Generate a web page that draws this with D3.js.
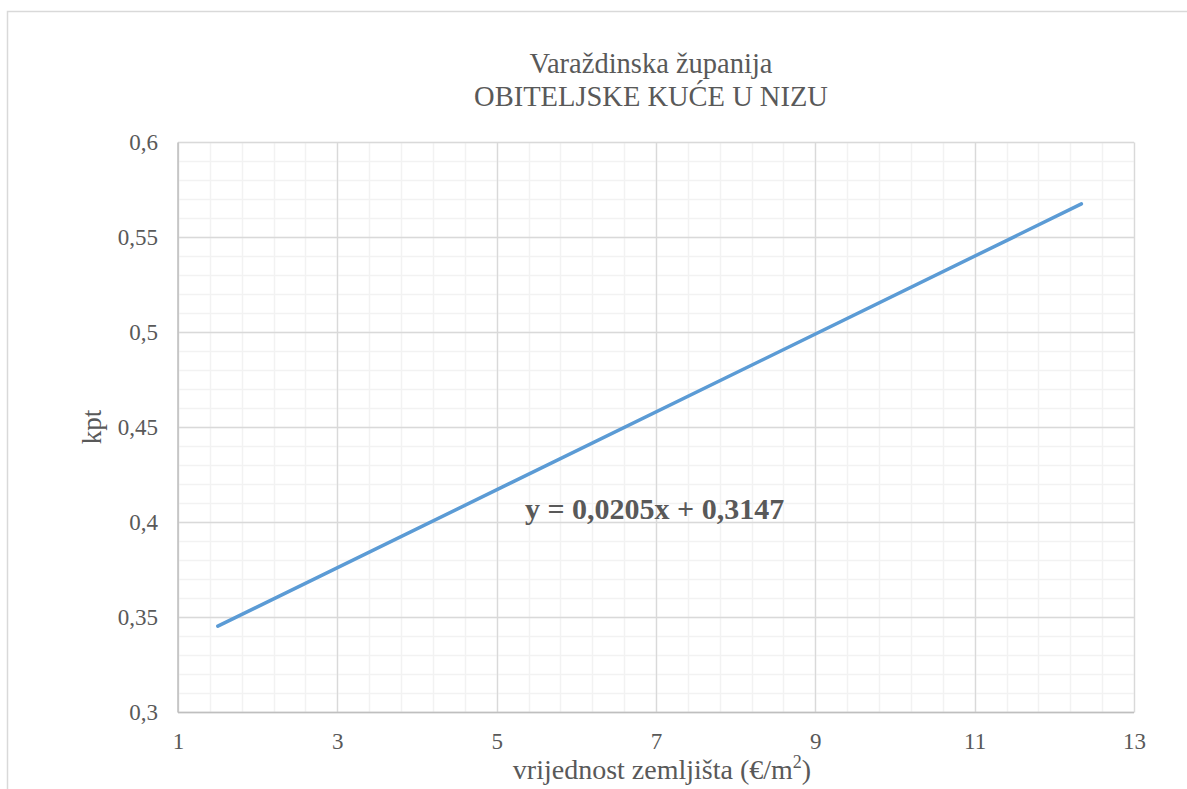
<!DOCTYPE html>
<html>
<head>
<meta charset="utf-8">
<script src="https://cdn.jsdelivr.net/npm/d3@7"></script>
<style>
  html, body { margin: 0; padding: 0; background: #fff; }
  svg { display: block; }
  svg text { font-family: "Liberation Serif", "Times New Roman", serif; }
</style>
</head>
<body>
<svg id="chart" width="1187" height="789"></svg>
<script>
// Linear trend of kpt against land value
const titleLines = ["Varaždinska županija", "OBITELJSKE KUĆE U NIZU"];
const xDomain = [1, 13];
const yDomain = [0.3, 0.6];
const xTicks = [1, 3, 5, 7, 9, 11, 13];
const yTicks = [0.3, 0.35, 0.4, 0.45, 0.5, 0.55, 0.6];
const slope = 0.0205;
const intercept = 0.3147;
const lineX = [1.5, 12.34];
const equationText = "y = 0,0205x + 0,3147";

const svg = d3.select("#chart");
const textColor = "#595959";

// Outer chart frame
svg.append("rect")
  .attr("x", 7.5).attr("y", 11.5)
  .attr("width", 1195).attr("height", 800)
  .attr("fill", "none").attr("stroke", "#d9d9d9").attr("stroke-width", 1.5);

const plot = { left: 178, right: 1134, top: 142.5, bottom: 712.5 };
const x = d3.scaleLinear().domain(xDomain).range([plot.left, plot.right]);
const y = d3.scaleLinear().domain(yDomain).range([plot.bottom, plot.top]);

// Minor gridlines
const xMinor = d3.range(xDomain[0], xDomain[1] + 1e-9, 0.4).map(v => +v.toFixed(2));
const yMinor = d3.range(yDomain[0], yDomain[1] + 1e-9, 0.01).map(v => +v.toFixed(3));
const g = svg.append("g");
g.selectAll(".xminor").data(xMinor).enter().append("line")
  .attr("x1", d => Math.round(x(d)) + 0.5).attr("x2", d => Math.round(x(d)) + 0.5)
  .attr("y1", plot.top).attr("y2", plot.bottom)
  .attr("stroke", "#f2f2f2").attr("stroke-width", 1.5);
g.selectAll(".yminor").data(yMinor).enter().append("line")
  .attr("y1", d => y(d)).attr("y2", d => y(d))
  .attr("x1", plot.left).attr("x2", plot.right)
  .attr("stroke", "#f2f2f2").attr("stroke-width", 1.5);

// Major gridlines
g.selectAll(".xmajor").data(xTicks).enter().append("line")
  .attr("x1", d => Math.round(x(d)) + 0.5).attr("x2", d => Math.round(x(d)) + 0.5)
  .attr("y1", plot.top).attr("y2", plot.bottom)
  .attr("stroke", "#d9d9d9").attr("stroke-width", 1.3);
g.selectAll(".ymajor").data(yTicks).enter().append("line")
  .attr("y1", d => y(d)).attr("y2", d => y(d))
  .attr("x1", plot.left).attr("x2", plot.right)
  .attr("stroke", "#d9d9d9").attr("stroke-width", 1.3);

// Axis lines
svg.append("line")
  .attr("x1", plot.left).attr("x2", plot.right)
  .attr("y1", plot.bottom).attr("y2", plot.bottom)
  .attr("stroke", "#bfbfbf").attr("stroke-width", 1.5);
svg.append("line")
  .attr("x1", plot.left).attr("x2", plot.left)
  .attr("y1", plot.top).attr("y2", plot.bottom)
  .attr("stroke", "#bfbfbf").attr("stroke-width", 1.5);

// Tick labels
const fmt = v => String(+v.toFixed(2)).replace(".", ",");
svg.append("g")
  .attr("transform", `translate(0,${plot.bottom})`)
  .call(d3.axisBottom(x).tickValues(xTicks).tickSize(0).tickPadding(20).tickFormat(d => d))
  .call(a => a.select(".domain").remove())
  .selectAll("text")
  .style("font-size", "23px").attr("fill", textColor);
svg.append("g")
  .attr("transform", `translate(${plot.left},0)`)
  .call(d3.axisLeft(y).tickValues(yTicks).tickSize(0).tickPadding(20).tickFormat(fmt))
  .call(a => a.select(".domain").remove())
  .selectAll("text")
  .style("font-size", "23px").attr("fill", textColor);

// Trend line
const line = d3.line().x(d => x(d)).y(d => y(slope * d + intercept));
svg.append("path")
  .attr("d", line(lineX))
  .attr("fill", "none").attr("stroke", "#5b9bd5").attr("stroke-width", 3.5)
  .attr("stroke-linecap", "round");

// Equation label
svg.append("text")
  .attr("x", 525).attr("y", 519)
  .style("font-size", "30px").attr("font-weight", "bold")
  .attr("fill", textColor)
  .text(equationText);

// Title
svg.selectAll(".title").data(titleLines).enter().append("text")
  .attr("x", 651).attr("y", (d, i) => 73 + i * 33)
  .attr("text-anchor", "middle")
  .style("font-size", "28.5px").attr("fill", textColor)
  .text(d => d);

// Axis titles
const xt = svg.append("text")
  .attr("x", 662).attr("y", 779)
  .attr("text-anchor", "middle")
  .style("font-size", "28px").attr("fill", textColor);
xt.append("tspan").text("vrijednost zemljišta (€/m");
xt.append("tspan").style("font-size", "18px").attr("dy", -11).text("2");
xt.append("tspan").attr("dy", 11).text(")");

svg.append("text")
  .attr("transform", "translate(101,427) rotate(-90)")
  .attr("text-anchor", "middle")
  .style("font-size", "27px").attr("fill", textColor)
  .text("kpt");
</script>
</body>
</html>
